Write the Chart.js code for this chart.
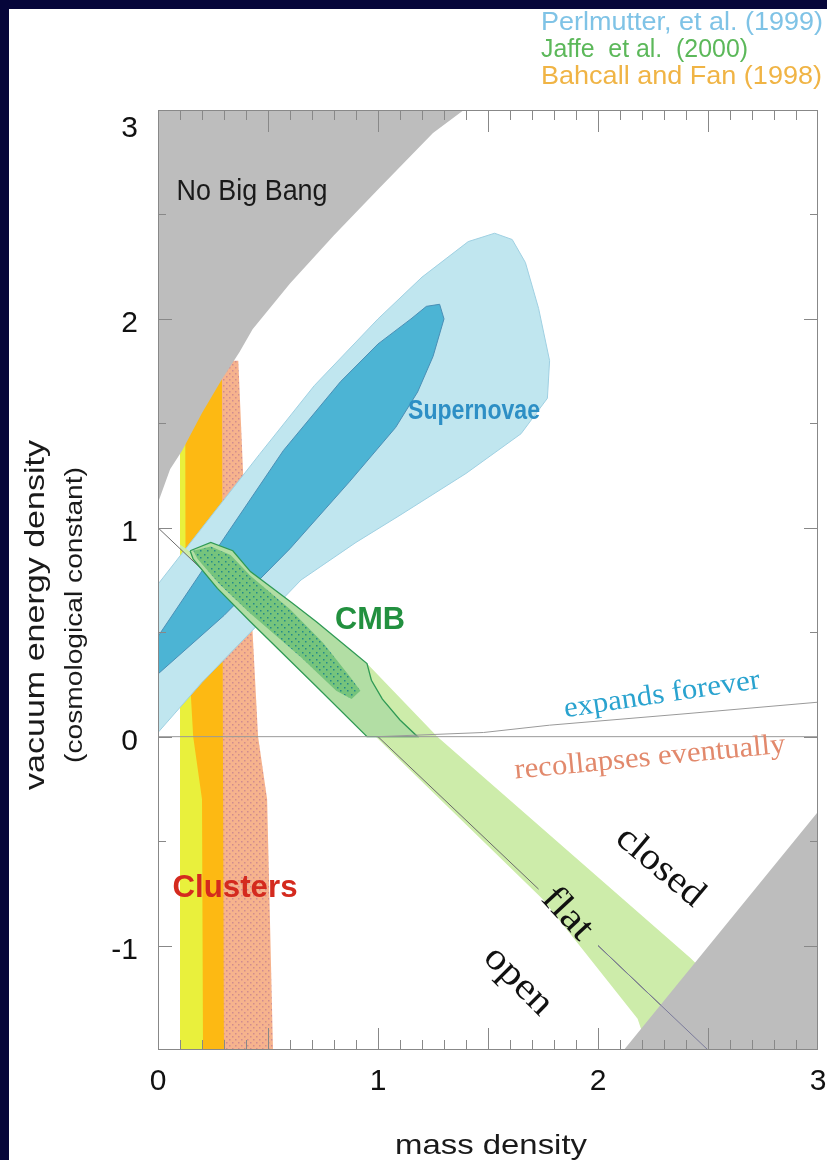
<!DOCTYPE html>
<html>
<head>
<meta charset="utf-8">
<script src="https://cdn.jsdelivr.net/npm/chart.js@4.4.1/dist/chart.umd.min.js"></script>
<style>
  html, body { margin: 0; padding: 0; background: #fff; }
  #wrap { position: relative; width: 827px; height: 1160px; overflow: hidden; background: #fff; }
  #wrap:before { content: ""; position: absolute; left: 0; top: 0; width: 827px; height: 9px; background: #06063a; }
  #wrap:after { content: ""; position: absolute; left: 0; top: 0; width: 9px; height: 1160px; background: #06063a; }
  canvas { position: absolute; left: 0; top: 0; }
</style>
</head>
<body>
<div id="wrap"><canvas id="c" width="827" height="1160"></canvas></div>
<script>
// axis tick labels
const xTickLabels = [0, 1, 2, 3];
const yTickLabels = [-1, 0, 1, 2, 3];

// regions, [mass density, vacuum energy density]
const noBigBang = [[-0.1, 1.0], [0, 1.12], [0.055, 1.28], [0.11, 1.37], [0.2, 1.55], [0.29, 1.71], [0.37, 1.84],
  [0.43, 1.95], [0.6, 2.17], [0.8, 2.4], [1.0, 2.62], [1.25, 2.89], [1.39, 3.0], [1.5, 3.2], [-0.1, 3.2]];
const lowerRightGrey = [[2.04, -1.6], [3.0, -0.36], [3.1, -0.24], [3.1, -1.6]];

const clusterSalmon = [[0.28, 1.8], [0.365, 1.8], [0.387, 1.26], [0.42, 0.7], [0.455, 0.0], [0.496, -0.3],
  [0.525, -1.6], [0.28, -1.6]];
const clusterOrange = [[0.1, 2.0], [0.29, 2.0], [0.295, 0.0], [0.3, -1.6], [0.1, -1.6]];
const clusterYellow = [[0.1, 2.0], [0.123, 2.0], [0.125, 0.9], [0.146, 0.26], [0.16, 0.0], [0.2, -0.3],
  [0.205, -1.6], [0.1, -1.6]];

const snOuter = [[-0.35, -0.3], [-0.2, 0.5], [0, 0.73], [0.2, 1.0], [0.46, 1.35], [0.71, 1.68], [1.0, 2.0],
  [1.2, 2.2], [1.41, 2.37], [1.53, 2.41], [1.61, 2.38], [1.67, 2.27], [1.73, 2.05], [1.78, 1.8], [1.77, 1.62],
  [1.65, 1.45], [1.4, 1.26], [1.1, 1.06], [0.9, 0.93], [0.65, 0.75], [0.43, 0.51], [0.2, 0.26], [0, 0.02],
  [-0.2, -0.25], [-0.35, -0.3]];
const snInner = [[-0.2, 0.2], [0, 0.48], [0.3, 0.95], [0.57, 1.37], [0.83, 1.7], [1.0, 1.88], [1.15, 2.0],
  [1.22, 2.06], [1.28, 2.07], [1.3, 2.0], [1.25, 1.82], [1.18, 1.65], [1.08, 1.48], [0.87, 1.22], [0.6, 0.9],
  [0.3, 0.58], [0, 0.3], [-0.2, 0.12], [-0.2, 0.2]];

const cmbBand = [[0.1, 0.92], [0.5, 0.62], [0.95, 0.35], [1.27, 0.0], [2.42, -1.06], [2.95, -1.6], [2.26, -1.6],
  [2.18, -1.35], [1.75, -0.78], [0.99, 0.0], [0.5, 0.5], [0.1, 0.9]];
const cmbMid = [[0.146, 0.89], [0.24, 0.93], [0.34, 0.89], [0.42, 0.79], [0.61, 0.64], [0.72, 0.55], [0.87, 0.42],
  [0.95, 0.35], [0.97, 0.27], [1.02, 0.18], [1.1, 0.08], [1.18, 0.0], [0.95, 0.0], [0.72, 0.24], [0.42, 0.55],
  [0.27, 0.71], [0.16, 0.85], [0.146, 0.89]];
const cmbCore = [[0.16, 0.89], [0.24, 0.91], [0.33, 0.87], [0.42, 0.77], [0.6, 0.61], [0.75, 0.45], [0.87, 0.29],
  [0.92, 0.22], [0.88, 0.18], [0.81, 0.22], [0.65, 0.38], [0.42, 0.59], [0.28, 0.73], [0.18, 0.85]];

const flatLine = [[0, 1], [1.73, -0.73], [1.86, null], [2.0, -1.0], [2.5, -1.5]];
const zeroLine = [[0, 0], [3, 0]];
const expandLine = [[1.0, 0.0], [1.48, 0.02], [1.78, 0.055], [2.4, 0.11], [3.0, 0.165]];

const pts = a => a.map(([x, y]) => ({ x, y }));

function dots(bg, dot, step) {
  const c = document.createElement("canvas");
  c.width = step; c.height = step;
  const g = c.getContext("2d");
  g.fillStyle = bg; g.fillRect(0, 0, step, step);
  g.fillStyle = dot; g.fillRect(1, 1, 1.5, 1.5);
  g.fillRect(Math.floor(step / 2) + 1, Math.floor(step / 2) + 1, 1.5, 1.5);
  return g.createPattern(c, "repeat");
}

function region(data, fill, border, bw, order) {
  return { data: pts(data), backgroundColor: fill, borderColor: border || "rgba(0,0,0,0)",
    borderWidth: bw || 0, fill: "shape", order };
}
function line(data, color, w, order) {
  return { data: pts(data), borderColor: color, borderWidth: w, fill: false, order };
}

// higher order = further back
const datasets = [
  region(clusterSalmon, dots("#f6b38d", "#cf8c8f", 6), null, 0, 20),
  region(clusterOrange, "#fdb913", null, 0, 19),
  region(clusterYellow, "#e9f03c", null, 0, 18),
  region(snOuter, "#c0e6ef", "#9fd0e2", 1, 17),
  region(snInner, "#4cb4d4", "#4a8fb6", 1, 16),
  region(cmbBand, "#cdecaa", null, 0, 15),
  line(flatLine, "#6a6a6a", 1, 14),
  region(cmbMid, "#b2dea4", "#2f9a55", 1.3, 13),
  region(cmbCore, dots("#76c47c", "#23898a", 7), null, 0, 12),
  line(zeroLine, "#9a9a9a", 1, 11),
  line(expandLine, "#9a9a9a", 1, 10),
  region(noBigBang, "#bdbdbd", null, 0, 9),
  region(lowerRightGrey, "#bdbdbd", null, 0, 8),
  line(flatLine.slice(3), "#7a7a9a", 1, 7)
];

const sans = '"Liberation Sans", Arial, sans-serif';
const serif = '"Liberation Serif", "Times New Roman", serif';

// text: pixel centre, rotation (deg), font, target width along the text
const labels = [
  { t: "Perlmutter, et al. (1999)", x: 541, y: 23, size: 25, w: 282, color: "#7fc3e6", align: "left" },
  { t: "Jaffe  et al.  (2000)", x: 541, y: 50, size: 25, w: 207, color: "#5cb85a", align: "left" },
  { t: "Bahcall and Fan (1998)", x: 541, y: 77, size: 25, w: 281, color: "#f0b445", align: "left" },
  { t: "No Big Bang", x: 252, y: 192, size: 29, w: 151, color: "#1a1a1a" },
  { t: "Supernovae", x: 474, y: 412, size: 27, bold: true, w: 132, color: "#2d8fc5" },
  { t: "CMB", x: 370, y: 620, size: 31, bold: true, w: 70, color: "#22903f" },
  { t: "Clusters", x: 235, y: 888, size: 31, bold: true, w: 125, color: "#d42a1e" },
  { t: "expands forever", x: 662, y: 695, size: 29, font: serif, w: 198, rot: -8.5, color: "#2aa3cf" },
  { t: "recollapses eventually", x: 650, y: 758, size: 29, font: serif, w: 272, rot: -5.5, color: "#e2896c" },
  { t: "closed", x: 660, y: 867, size: 38, font: serif, w: 104, rot: 40, color: "#111" },
  { t: "flat", x: 567, y: 914, size: 38, font: serif, w: 58, rot: 47, color: "#111" },
  { t: "open", x: 518, y: 981, size: 38, font: serif, w: 82, rot: 45, color: "#111" },
  { t: "vacuum energy density", x: 36, y: 615, size: 28, w: 350, rot: -90, color: "#1a1a1a" },
  { t: "(cosmological constant)", x: 76, y: 615, size: 23, w: 296, rot: -90, color: "#1a1a1a" },
  { t: "mass density", x: 491, y: 1146, size: 28, w: 192, color: "#1a1a1a" }
];

function drawLabel(ctx, l) {
  ctx.save();
  ctx.translate(l.x, l.y);
  ctx.rotate((l.rot || 0) * Math.PI / 180);
  ctx.font = (l.bold ? "bold " : "") + l.size + "px " + (l.font || sans);
  const m = ctx.measureText(l.t).width;
  const sx = l.w ? l.w / m : 1;
  ctx.scale(sx, 1);
  ctx.fillStyle = l.color;
  ctx.textBaseline = "middle";
  ctx.textAlign = l.align || "center";
  ctx.fillText(l.t, 0, 0);
  ctx.restore();
}

const frameAndText = {
  id: "frameAndText",
  afterDatasetsDraw(chart) {
    const { ctx, chartArea: a, scales: { x, y } } = chart;
    ctx.save();
    ctx.strokeStyle = "#888";
    ctx.lineWidth = 1;
    ctx.beginPath();
    for (let i = 1; i < 30; i++) {
      const px = Math.round(x.getPixelForValue(i / 10)) + 0.5;
      const len = i % 5 === 0 ? 22 : 10;
      ctx.moveTo(px, a.bottom); ctx.lineTo(px, a.bottom - len);
      ctx.moveTo(px, a.top); ctx.lineTo(px, a.top + len);
    }
    for (let i = 1; i < 9; i++) {
      const v = -1.5 + i * 0.5;
      const py = Math.round(y.getPixelForValue(v)) + 0.5;
      const len = Number.isInteger(v) ? 14 : 8;
      ctx.moveTo(a.left, py); ctx.lineTo(a.left + len, py);
      ctx.moveTo(a.right, py); ctx.lineTo(a.right - len, py);
    }
    ctx.stroke();
    ctx.strokeRect(a.left + 0.5, a.top + 0.5, a.right - a.left - 1, a.bottom - a.top - 1);
    ctx.restore();
    labels.forEach(l => drawLabel(ctx, l));
  }
};

new Chart(document.getElementById("c"), {
  type: "line",
  data: { datasets },
  options: {
    responsive: false,
    animation: false,
    events: [],
    layout: { padding: { left: 0, top: 110, right: 9, bottom: 0 } },
    elements: { point: { radius: 0 }, line: { tension: 0 } },
    plugins: { legend: { display: false }, tooltip: { enabled: false } },
    scales: {
      x: {
        type: "linear", min: 0, max: 3,
        grid: { display: false, drawTicks: false },
        border: { display: false },
        afterBuildTicks: s => { s.ticks = xTickLabels.map(v => ({ value: v })); },
        afterFit: s => { s.height = 110; s.paddingLeft = 0; s.paddingRight = 0; },
        ticks: { padding: 14, maxRotation: 0, autoSkip: false, color: "#111",
          font: { family: sans, size: 30 }, callback: v => String(v) }
      },
      y: {
        type: "linear", min: -1.5, max: 3,
        grid: { display: false, drawTicks: false },
        border: { display: false },
        afterBuildTicks: s => { s.ticks = yTickLabels.map(v => ({ value: v })); },
        afterFit: s => { s.width = 158; s.paddingTop = 0; s.paddingBottom = 0; },
        // the top label sits below its tick in the original
        ticks: { padding: 20, autoSkip: false, color: "#111", labelOffset: 5,
          font: { family: sans, size: 30, lineHeight: 0.9 },
          callback: v => v === 3 ? ["", "3"] : String(v) }
      }
    }
  },
  plugins: [frameAndText]
});
</script>
</body>
</html>
